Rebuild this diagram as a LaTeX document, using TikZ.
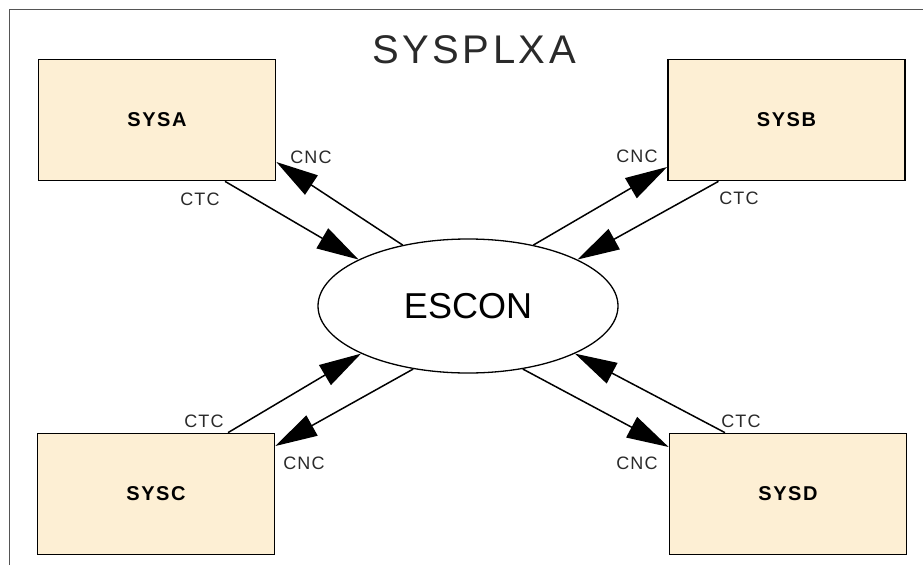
\documentclass[tikz,border=0pt]{standalone}
\usepackage{fontspec}
\setmainfont{Liberation Sans}
\newfontfamily\titlefont[LetterSpace=9]{Liberation Sans}
\newfontfamily\boxfont[LetterSpace=8]{Liberation Sans}
\newfontfamily\lblfont[LetterSpace=6]{Liberation Sans}
\usetikzlibrary{arrows.meta,shapes.geometric,calc}
\definecolor{boxfill}{HTML}{FDEFD4}
\definecolor{txtgray}{HTML}{2A2A2A}
\definecolor{framegray}{HTML}{555555}
\begin{document}
\begin{tikzpicture}[x=1pt,y=-1pt,
  sysbox/.style={draw=black,line width=1.7pt,fill=boxfill,minimum width=237pt,minimum height=121pt,inner sep=0pt,font=\boxfont\bfseries\fontsize{20}{24}\selectfont},
  cloud/.style={draw=black,line width=1.3pt,fill=white,ellipse,minimum width=300pt,minimum height=134pt,inner sep=0pt,font=\fontsize{36}{40}\selectfont},
  lbl/.style={font=\lblfont\fontsize{18}{21}\selectfont,text=txtgray,inner sep=0pt},
  link/.style={line width=1.5pt,-{Triangle[length=42pt,width=23pt]}}]
\useasboundingbox (0,0) rectangle (923,565);
\fill[white] (0,0) rectangle (923,565);
\draw[framegray,line width=1pt] (9.5,565) -- (9.5,9.5) -- (923,9.5);
\node[font=\titlefont\fontsize{40}{44}\selectfont,text=txtgray,inner sep=0pt] (title) at (474,50) {SYSPLXA};
\node[sysbox] (sysa) at (157,120) {SYSA};
\node[sysbox] (sysb) at (786.5,120) {SYSB};
\node[sysbox] (sysc) at (156,494) {SYSC};
\node[sysbox] (sysd) at (788,494) {SYSD};
\node[cloud] (escon) at (468,306) {ESCON};
% SYSA
\draw[link] ([xshift=68pt]sysa.south) -- (escon.157);
\draw[link] (escon.137) -- ([yshift=-42pt]sysa.east);
% SYSB
\draw[link] (escon.43) -- ([yshift=-47pt]sysb.west);
\draw[link] ([xshift=-68pt]sysb.south) -- (escon.23);
% SYSC
\draw[link] ([xshift=72pt]sysc.north) -- (escon.204);
\draw[link] (escon.229) -- ([yshift=48pt]sysc.east);
% SYSD
\draw[link] (escon.311) -- ([yshift=47pt]sysd.west);
\draw[link] ([xshift=-63pt]sysd.north) -- (escon.336);
% labels
\node[lbl] (la1) at (311,157) {CNC};
\node[lbl] (la2) at (200,199) {CTC};
\node[lbl] (lb1) at (637,156) {CNC};
\node[lbl] (lb2) at (739,198) {CTC};
\node[lbl] (lc1) at (204,421) {CTC};
\node[lbl] (lc2) at (304,463) {CNC};
\node[lbl] (ld1) at (741,421) {CTC};
\node[lbl] (ld2) at (637,463) {CNC};
\end{tikzpicture}
\end{document}
